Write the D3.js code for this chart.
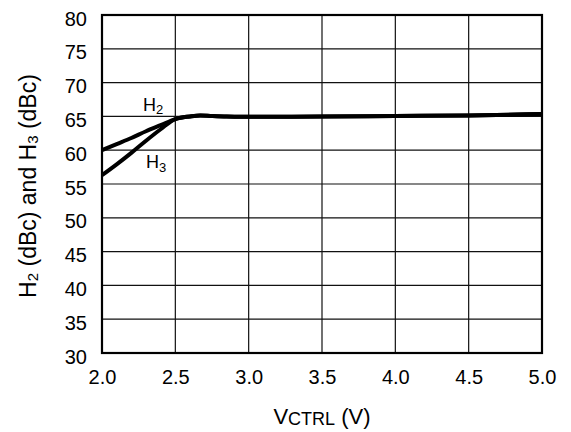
<!DOCTYPE html>
<html>
<head>
<meta charset="utf-8">
<script src="https://d3js.org/d3.v7.min.js"></script>
<style>
  body { margin: 0; background: white; }
  svg { display: block; font-family: "Liberation Sans", Arial, Helvetica, sans-serif; }
</style>
</head>
<body>
<div id="chart"></div>
<script>
// data
var vctrl = [2.0, 2.1, 2.2, 2.3, 2.4, 2.5, 2.6, 2.67, 2.75, 2.85, 3.0, 3.5, 4.0, 4.5, 5.0]
var h2_values = [60.0, 60.9, 61.8, 62.8, 63.7, 64.6, 65.0, 65.15, 65.05, 64.97, 64.95, 64.98, 65.05, 65.15, 65.35]
var h3_values = [56.3, 57.9, 59.6, 61.4, 63.1, 64.6, 65.0, 65.15, 65.05, 64.97, 64.95, 64.98, 65.05, 65.15, 65.35]
var x_ticks = [2.0, 2.5, 3.0, 3.5, 4.0, 4.5, 5.0]
var y_ticks = [30, 35, 40, 45, 50, 55, 60, 65, 70, 75, 80]

var W = 571, H = 432
var margin = {top: 15, right: 29, bottom: 79, left: 102}
var width = W - margin.left - margin.right
var height = H - margin.top - margin.bottom
var tick_font = 20

var svg = d3.select("#chart").append("svg")
    .attr("width", W)
    .attr("height", H)

var g = svg.append("g")
    .attr("transform", "translate(" + margin.left + "," + margin.top + ")")

var x = d3.scaleLinear().domain([2, 5]).range([0, width])
var y = d3.scaleLinear().domain([30, 80]).range([height, 0])

// grid
g.append("g")
    .attr("class", "grid")
    .selectAll("line.vgrid")
    .data(x_ticks).enter()
    .append("line")
    .attr("x1", function(d){ return x(d) })
    .attr("x2", function(d){ return x(d) })
    .attr("y1", 0)
    .attr("y2", height)
    .attr("stroke", "#111")
    .attr("stroke-width", 1.2)
g.append("g")
    .attr("class", "grid")
    .selectAll("line.hgrid")
    .data(y_ticks).enter()
    .append("line")
    .attr("x1", 0)
    .attr("x2", width)
    .attr("y1", function(d){ return y(d) })
    .attr("y2", function(d){ return y(d) })
    .attr("stroke", "#111")
    .attr("stroke-width", 1.2)

// axes (labels only, ticks hidden)
var x_axis = g.append("g")
    .attr("transform", "translate(0," + height + ")")
    .call(d3.axisBottom(x).tickValues(x_ticks).tickSize(0).tickFormat(d3.format(".1f")))
x_axis.select(".domain").remove()
x_axis.selectAll("text")
    .attr("y", 31)
    .attr("dy", null)
    .attr("fill", "#000")
    .style("font-size", tick_font + "px")
    .style("font-family", "'Liberation Sans', Arial, sans-serif")

var y_axis = g.append("g")
    .call(d3.axisLeft(y).tickValues(y_ticks).tickSize(0).tickFormat(d3.format("d")))
y_axis.select(".domain").remove()
y_axis.selectAll("text")
    .attr("x", -15)
    .attr("y", 10)
    .attr("dy", null)
    .attr("fill", "#000")
    .style("font-size", tick_font + "px")
    .style("font-family", "'Liberation Sans', Arial, sans-serif")

// frame
g.append("rect")
    .attr("x", 0)
    .attr("y", 0)
    .attr("width", width)
    .attr("height", height)
    .attr("fill", "none")
    .attr("stroke", "#000")
    .attr("stroke-width", 2.2)

// curves
var line = d3.line()
    .x(function(d){ return x(d[0]) })
    .y(function(d){ return y(d[1]) })
    .curve(d3.curveMonotoneX)

var series = [d3.zip(vctrl, h2_values), d3.zip(vctrl, h3_values)]
g.selectAll(".series")
    .data(series).enter()
    .append("path")
    .attr("class", "series")
    .attr("d", line)
    .attr("fill", "none")
    .attr("stroke", "#000")
    .attr("stroke-width", 4)
    .attr("stroke-linejoin", "round")

// curve labels
function sub_label(xp, yp, main, sub, size, sub_size, sub_dy){
    var t = svg.append("text")
        .attr("x", xp)
        .attr("y", yp)
        .style("font-size", size + "px")
        .attr("fill", "#000")
    t.append("tspan").text(main)
    t.append("tspan")
        .text(sub)
        .attr("dy", sub_dy)
        .style("font-size", sub_size + "px")
    return t
}
sub_label(143, 110.5, "H", "2", 18, 13, 3)
sub_label(146, 168, "H", "3", 18, 13, 4)

// x title
var xt = svg.append("text")
    .attr("x", margin.left + width / 2)
    .attr("y", 424)
    .attr("text-anchor", "middle")
    .attr("fill", "#000")
    .style("font-size", "22px")
xt.append("tspan").text("V")
xt.append("tspan").text("CTRL").style("font-size", "18px").attr("dy", 1)
xt.append("tspan").text(" (V)").attr("dy", -1)

// y title
var yt = svg.append("text")
    .attr("transform", "translate(36," + (margin.top + height / 2 + 2) + ") rotate(-90)")
    .attr("text-anchor", "middle")
    .attr("fill", "#000")
    .style("font-size", "23px")
yt.append("tspan").text("H")
yt.append("tspan").text("2").style("font-size", "15px").attr("dy", 2)
yt.append("tspan").text(" (dBc) and H").attr("dy", -2)
yt.append("tspan").text("3").style("font-size", "15px").attr("dy", 2)
yt.append("tspan").text(" (dBc)").attr("dy", -2)
</script>
</body>
</html>
